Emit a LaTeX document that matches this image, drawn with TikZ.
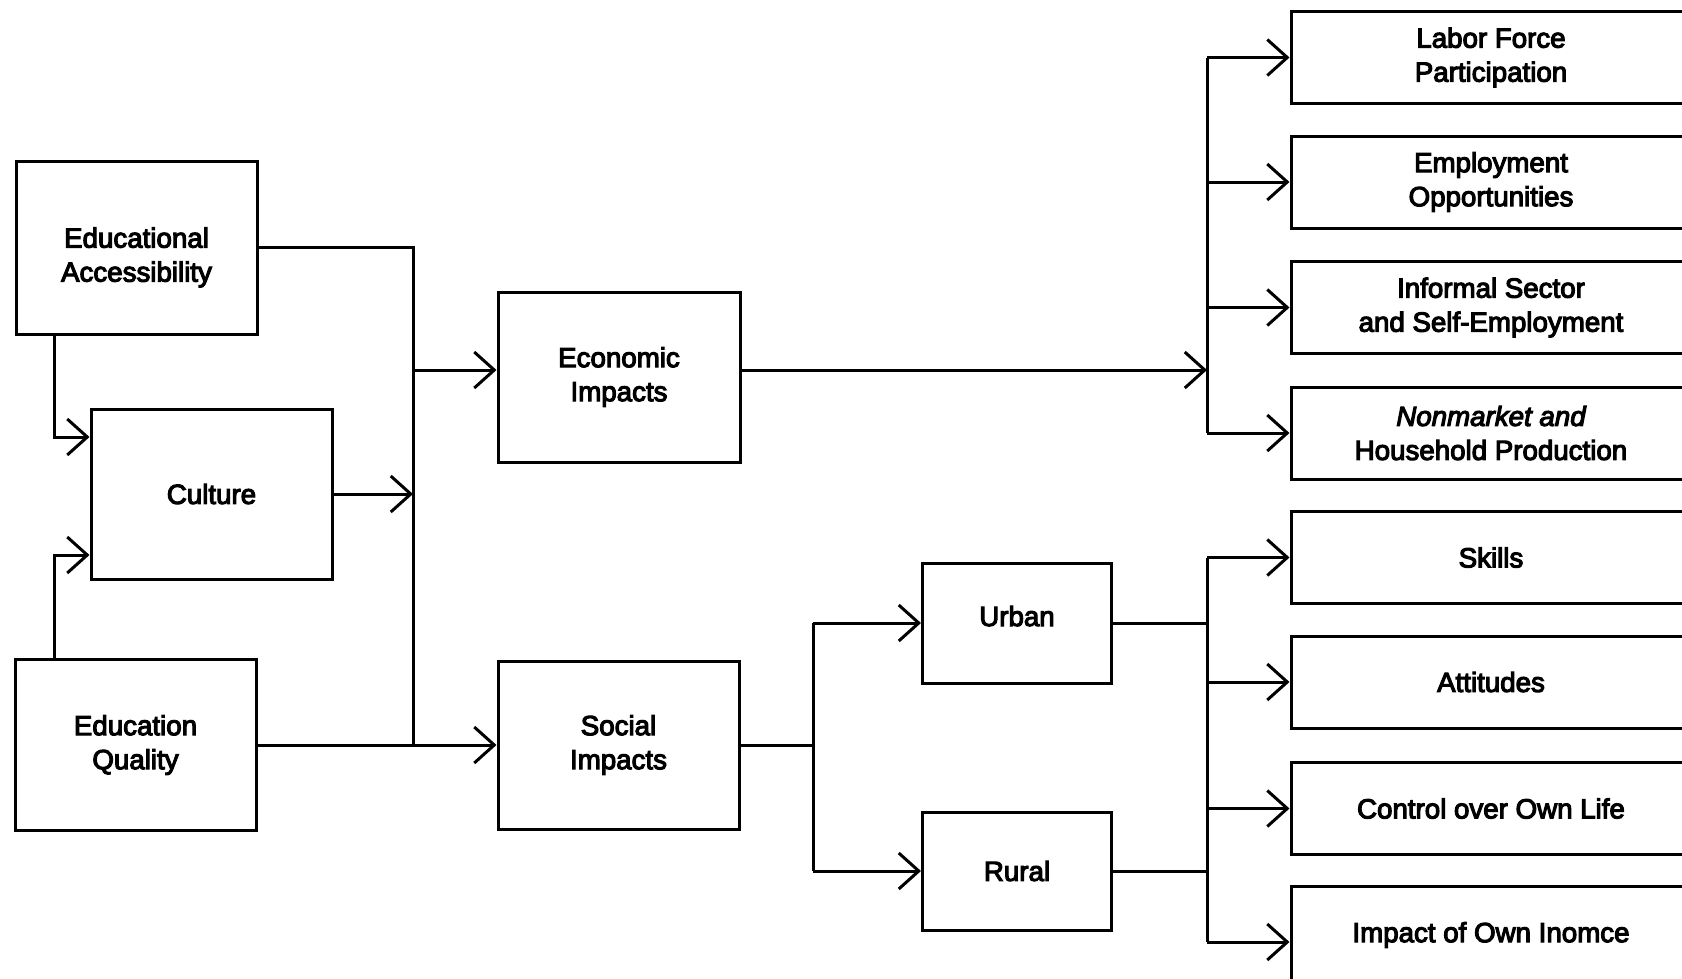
\documentclass[tikz,border=0pt]{standalone}
\usepackage{fontspec}
\newfontfamily\bxf{Liberation Sans}[FakeBold=4,ItalicFeatures={FakeBold=4}]
\usetikzlibrary{arrows.meta}
\begin{document}
\begin{tikzpicture}[x=1pt,y=-1pt,
  box/.style={draw,line width=3pt,align=center,inner sep=0pt,font=\bxf\fontsize{27.7}{34}\selectfont},
  rbox/.style={box,minimum width=400pt,minimum height=92pt},
  conn/.style={line width=3pt},
  arr/.style={conn,-{Straight Barb[length=20pt,width=36pt]}}]
\path[use as bounding box] (0,0) rectangle (1682,978);
% left column
\node[box,minimum width=241pt,minimum height=173pt] (EA) at (136.5,247.5) {\rule{0pt}{40pt}Educational\\Accessibility};
\node[box,minimum width=241pt,minimum height=170pt] (Cu) at (211.5,494) {Culture};
\node[box,minimum width=241pt,minimum height=171pt] (EQ) at (135.5,745) {Education\\Quality};
% middle
\node[box,minimum width=242pt,minimum height=170pt] (Ec) at (619,377) {Economic\\Impacts};
\node[box,minimum width=241pt,minimum height=168pt] (So) at (618.5,745) {Social\\Impacts};
\node[box,minimum width=189pt,minimum height=120pt,text depth=14pt] (Ur) at (1017,623) {Urban};
\node[box,minimum width=189pt,minimum height=118pt] (Ru) at (1017,871) {Rural};
% right column
\node[rbox] (L1) at (1491,57.5) {Labor Force\\Participation};
\node[rbox] (L2) at (1491,182) {Employment\\Opportunities};
\node[rbox] (L3) at (1491,307.5) {Informal Sector\\and Self-Employment};
\node[rbox] (L4) at (1491,433) {{\itshape Nonmarket and}\\Household Production};
\node[rbox] (S1) at (1491,557.5) {Skills};
\node[rbox] (S2) at (1491,682) {Attitudes};
\node[rbox] (S3) at (1491,808.5) {Control over Own Life};
\node[rbox,minimum height=98pt] (S4) at (1491,935) {Impact of Own Inomce};
% helper coordinates
\coordinate (busL) at (413,745);
\coordinate (busR) at (1207,0);
\coordinate (busS) at (813,0);
\coordinate (eY) at (0,370);
\coordinate (a1) at (54,437);
\coordinate (a2) at (54,555);
\coordinate (impY) at (0,942);
% left connectors
\draw[conn] (EA.east) -| (busL);
\draw[arr] (Cu.east) -- (Cu.east -| busL);
\draw[arr] (busL |- eY) -- (Ec.west |- eY);
\draw[arr] (EQ.east) -- (So.west);
\draw[arr] (EA.south -| a1) |- (Cu.west |- a1);
\draw[arr] (EQ.north -| a2) |- (Cu.west |- a2);
% economic branch
\draw[arr] (Ec.east |- eY) -- (busR |- eY);
\draw[conn] (busR |- L1) -- (busR |- L4);
\foreach \n in {L1,L2,L3,L4} \draw[arr] (busR |- \n) -- (\n.west);
% social branch
\draw[conn] (So.east) -- (busS |- So.east);
\draw[conn] (busS |- Ur) -- (busS |- Ru);
\draw[arr] (busS |- Ur) -- (Ur.west);
\draw[arr] (busS |- Ru) -- (Ru.west);
\draw[conn] (Ur.east) -- (busR |- Ur);
\draw[conn] (Ru.east) -- (busR |- Ru);
\draw[conn] (busR |- S1) -- (busR |- impY);
\foreach \n in {S1,S2,S3} \draw[arr] (busR |- \n) -- (\n.west);
\draw[arr] (busR |- impY) -- (S4.west |- impY);
\end{tikzpicture}
\end{document}
